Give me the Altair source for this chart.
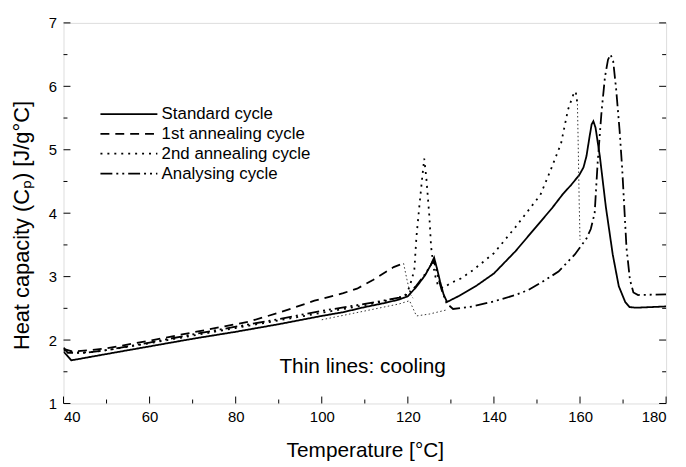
import altair as alt
import pandas as pd

FONT = "Liberation Sans"

# ---- heating curves (thick) ----
T_STD = [40.0, 41.8, 50, 60, 70, 80, 90, 100, 105, 110, 115, 118, 120, 122, 124, 125.3, 126.1, 126.8, 127.5, 128.3, 129.1,
         132, 136, 140, 145, 150, 153.5, 156, 158, 159.8, 160.8, 161.5, 162.2, 162.7, 163.1, 163.6, 164.6, 166.0, 167.6,
         169.0, 170.5, 171.5, 173, 180]
CP_STD = [1.82, 1.68, 1.78, 1.90, 2.02, 2.13, 2.25, 2.38, 2.44, 2.52, 2.59, 2.64, 2.69, 2.84, 3.02, 3.18, 3.30, 3.12, 2.92, 2.72, 2.60,
          2.70, 2.86, 3.05, 3.40, 3.80, 4.08, 4.30, 4.45, 4.60, 4.72, 4.90, 5.20, 5.40, 5.45, 5.35, 4.90, 4.10, 3.35,
          2.85, 2.60, 2.52, 2.51, 2.53]

T_A1 = [40.0, 42, 46, 50, 60, 70, 80, 83, 90, 98.3, 105, 108.2, 112, 116.7, 119.0]
CP_A1 = [1.86, 1.82, 1.84, 1.87, 1.99, 2.12, 2.25, 2.29, 2.43, 2.62, 2.74, 2.81, 2.95, 3.15, 3.21]

T_A2 = [40.0, 43, 47, 50, 60, 70, 80, 90, 100, 110, 115, 118, 119.6, 120.4, 121.5, 122.0, 122.8, 123.4, 123.8, 124.3, 125.0,
        125.4, 126.2, 127.0, 128.2, 130, 132.3, 135.1, 140, 145, 150.8, 153, 155.6, 157.2, 158.5, 159.0, 159.4]
CP_A2 = [1.84, 1.80, 1.81, 1.84, 1.95, 2.07, 2.19, 2.31, 2.43, 2.55, 2.62, 2.67, 2.72, 2.84, 3.10, 3.63, 4.20, 4.60, 4.86, 4.55, 3.95,
         3.47, 3.05, 2.86, 2.82, 2.90, 2.97, 3.10, 3.37, 3.78, 4.29, 4.65, 5.10, 5.63, 5.88, 5.92, 5.72]

T_AN = [40.0, 41, 45, 50, 60, 70, 80, 90, 100, 110, 115, 118, 120, 122, 124, 125.3, 126.0, 126.8, 127.8, 129.0, 130.5,
        135, 140, 145, 148, 152, 155, 158.8, 161.5, 162.5, 163.4, 164.1, 165.0, 165.8, 166.5, 167.1, 167.7, 168.4, 169.2,
        169.8, 170.8, 171.6, 172.4, 173.5, 180]
CP_AN = [1.88, 1.80, 1.80, 1.84, 1.96, 2.09, 2.21, 2.33, 2.46, 2.57, 2.63, 2.67, 2.72, 2.86, 3.04, 3.18, 3.26, 3.05, 2.80, 2.58, 2.49,
         2.53, 2.61, 2.71, 2.79, 2.95, 3.08, 3.35, 3.60, 3.75, 4.00, 4.80, 5.60, 6.15, 6.42, 6.50, 6.40, 5.95, 5.30,
         4.70, 3.45, 2.95, 2.75, 2.71, 2.72]

CYCLES = ["Standard cycle", "1st annealing cycle", "2nd annealing cycle", "Analysing cycle"]
DASHES = [[1, 0], [9, 6], [2, 5], [12, 4, 2, 4, 2, 4]]

# ---- cooling curves (thin) ----
T_C1 = [119.0, 119.8, 120.6, 121.2]
CP_C1 = [3.21, 2.95, 2.72, 2.66]
T_C2 = [100.0, 106.5, 113, 118, 120.4, 121.2, 122.0, 125, 129.3]
CP_C2 = [2.32, 2.41, 2.50, 2.57, 2.62, 2.50, 2.38, 2.41, 2.48]
T_C3 = [159.4, 159.6, 159.8, 160.0]
CP_C3 = [5.72, 5.00, 4.20, 3.58]

X_MAJOR = [40, 60, 80, 100, 120, 140, 160, 180]
X_MINOR = [50, 70, 90, 110, 130, 150, 170]
Y_MAJOR = [1, 2, 3, 4, 5, 6, 7]
Y_MINOR = [1.5, 2.5, 3.5, 4.5, 5.5, 6.5]

NOTE_T = [109.5]
NOTE_CP = [1.58]
NOTE_TEXT = ["Thin lines: cooling"]

W, H = 608, 384

rows = []
for name, ts, cs in zip(CYCLES, [T_STD, T_A1, T_A2, T_AN], [CP_STD, CP_A1, CP_A2, CP_AN]):
    for i, (t, c) in enumerate(zip(ts, cs)):
        rows.append({"T": t, "Cp": c, "cycle": name, "i": i})
heat = pd.DataFrame(rows)

crow = []
for k, (ts, cs) in enumerate([(T_C1, CP_C1), (T_C2, CP_C2), (T_C3, CP_C3)]):
    for i, (t, c) in enumerate(zip(ts, cs)):
        crow.append({"T": t, "Cp": c, "seg": k, "i": i})
cool = pd.DataFrame(crow)

xs = alt.Scale(domain=[40, 180], nice=False, zero=False)
ys = alt.Scale(domain=[1, 7], nice=False, zero=False)

xaxis = alt.Axis(values=X_MAJOR, format="d", title="Temperature [°C]", ticks=False, domain=False, grid=False,
                 labelFontSize=15, labelPadding=6, titleFontSize=21, titleFontWeight="normal",
                 titleX=W / 2, titleY=47, titleAlign="center", titleBaseline="middle",
                 labelFont=FONT, titleFont=FONT, labelColor="black", titleColor="black")
yaxis = alt.Axis(values=Y_MAJOR, format="d", title="Heat capacity (Cₚ) [J/g°C]", ticks=False, domain=False, grid=False,
                 labelFontSize=15, labelPadding=7, titleFontSize=22, titleFontWeight="normal",
                 titleX=-42, titleY=204, titleAlign="center", titleBaseline="middle", titleAngle=270,
                 labelFont=FONT, titleFont=FONT, labelColor="black", titleColor="black")

heat_layer = alt.Chart(heat).mark_line(strokeWidth=1.8, color="black", clip=True).encode(
    x=alt.X("T:Q", scale=xs, axis=xaxis),
    y=alt.Y("Cp:Q", scale=ys, axis=yaxis),
    strokeDash=alt.StrokeDash("cycle:N", scale=alt.Scale(domain=CYCLES, range=DASHES),
                              legend=alt.Legend(title=None, orient="none", legendX=36, legendY=84,
                                                symbolType="stroke", symbolSize=3300, symbolStrokeWidth=1.8,
                                                symbolStrokeColor="black", labelFontSize=17, labelFont=FONT,
                                                labelColor="black", clipHeight=16, rowPadding=3,
                                                labelOffset=3)),
    detail="cycle:N",
    order=alt.Order("i:Q"),
)

cool_layer = alt.Chart(cool).mark_line(strokeWidth=1, color="#333", strokeDash=[1.5, 2.5]).encode(
    x=alt.X("T:Q", scale=xs),
    y=alt.Y("Cp:Q", scale=ys),
    detail="seg:N",
    order=alt.Order("i:Q"),
)

note = alt.Chart(pd.DataFrame({"T": NOTE_T, "Cp": NOTE_CP, "txt": NOTE_TEXT})).mark_text(
    font=FONT, fontSize=21, color="black", align="center", baseline="middle").encode(
    x=alt.X("T:Q", scale=xs), y=alt.Y("Cp:Q", scale=ys), text="txt:N")

xmaj = alt.Chart(pd.DataFrame({"v": X_MAJOR})).mark_rule(color="black").encode(
    x=alt.X("v:Q", scale=xs), y=alt.value(H), y2=alt.value(H - 7))
xmin = alt.Chart(pd.DataFrame({"v": X_MINOR})).mark_rule(color="black").encode(
    x=alt.X("v:Q", scale=xs), y=alt.value(H), y2=alt.value(H - 4))
ymajL = alt.Chart(pd.DataFrame({"v": Y_MAJOR})).mark_rule(color="black").encode(
    y=alt.Y("v:Q", scale=ys), x=alt.value(0), x2=alt.value(7))
yminL = alt.Chart(pd.DataFrame({"v": Y_MINOR})).mark_rule(color="black").encode(
    y=alt.Y("v:Q", scale=ys), x=alt.value(0), x2=alt.value(4))
ymajR = alt.Chart(pd.DataFrame({"v": Y_MAJOR})).mark_rule(color="black").encode(
    y=alt.Y("v:Q", scale=ys), x=alt.value(W), x2=alt.value(W - 7))
yminR = alt.Chart(pd.DataFrame({"v": Y_MINOR})).mark_rule(color="black").encode(
    y=alt.Y("v:Q", scale=ys), x=alt.value(W), x2=alt.value(W - 4))

chart = alt.layer(heat_layer, cool_layer, note, xmaj, xmin, ymajL, yminL, ymajR, yminR).properties(
    width=W, height=H,
    autosize=alt.AutoSizeParams(type="none"),
    padding={"left": 56, "top": 13, "right": 12, "bottom": 56},
).configure_view(stroke="black", strokeWidth=1.2).configure(background="white")

chart.save("out.html", embed_options={"renderer": "svg", "actions": False})
